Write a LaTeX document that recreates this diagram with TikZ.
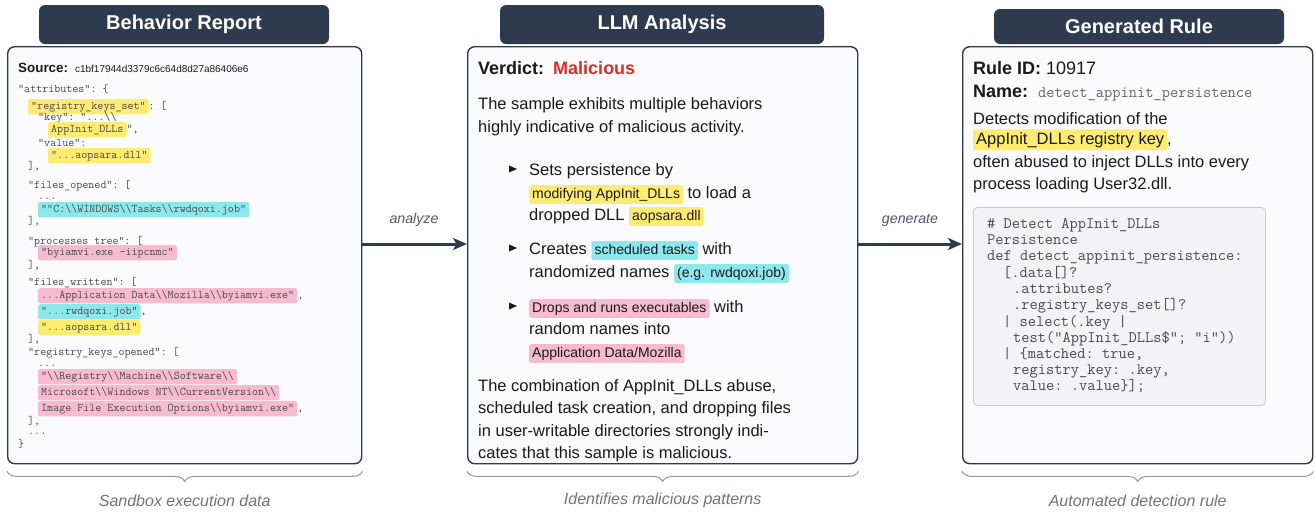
\documentclass[tikz,border=0pt]{standalone}
\usepackage{fontspec}
\setmainfont{Liberation Sans}
\usetikzlibrary{arrows.meta,decorations.pathreplacing,calc}
\definecolor{slate}{HTML}{2E3B4E}
\definecolor{panelfill}{HTML}{FBFBFD}
\definecolor{hlyellow}{HTML}{FDEB72}
\definecolor{hlcyan}{HTML}{8DE8EE}
\definecolor{hlpink}{HTML}{F7BBD0}
\definecolor{malred}{HTML}{D0312D}
\definecolor{capgrey}{HTML}{6E7383}
\definecolor{jsongrey}{HTML}{4A4A4A}
\definecolor{codefill}{HTML}{F3F3F5}
\definecolor{codeborder}{HTML}{C9CBD0}
\definecolor{bodytext}{HTML}{1A1A1A}
\newcommand\bs{\textbackslash}
\newcommand\hlt[3][]{\tikz[baseline=(hlx.base)]\node[hlbox,fill=#2,#1](hlx){#3};}
\tikzset{
 panel/.style={draw=slate, line width=1.4pt, fill=panelfill, rounded corners=7pt, anchor=north west, inner sep=0pt},
 header/.style={fill=slate, rounded corners=6pt, text=white, font=\fontsize{20}{24}\selectfont\bfseries, inner sep=0pt},
 txt/.style={anchor=base west, inner sep=0pt, text=bodytext, font=\fontsize{16.5}{20}\selectfont},
 json/.style={anchor=base west, inner sep=0pt, text=jsongrey, font=\fontsize{11.7}{13}\selectfont\ttfamily\frenchspacing},
 code/.style={anchor=base west, inner sep=0pt, text=jsongrey, font=\fontsize{16}{18}\selectfont\ttfamily\frenchspacing},
 hlbox/.style={anchor=base, inner xsep=3pt, inner ysep=2.3pt, rounded corners=2pt, text height=8pt, text depth=2.5pt, outer sep=0pt},
 hlmid/.style={font=\fontsize{14}{16}\selectfont, text height=10.5pt, text depth=3.5pt},
 hlright/.style={font=\fontsize{16.5}{20}\selectfont, text height=12.4pt, text depth=4.1pt},
 flow/.style={line width=3pt, draw=slate, -{Stealth[length=14pt,width=12pt,inset=3.5pt]}},
 flowlabel/.style={font=\fontsize{14.2}{16}\selectfont\itshape, text=slate!85, inner sep=0pt},
 bracestyle/.style={draw=capgrey!75, line width=1pt, decorate, decoration={brace, mirror, amplitude=10pt}},
 caption/.style={font=\fontsize{16}{19}\selectfont\itshape, text=capgrey, inner sep=0pt},
}
\begin{document}
\begin{tikzpicture}[x=1pt,y=-1pt]
\useasboundingbox (0,0) rectangle (1315,512);
% panels
\node[panel, minimum width=354, minimum height=417] (lbox) at (7,46) {};
\node[panel, minimum width=390, minimum height=417] (mbox) at (467,46) {};
\node[panel, minimum width=350, minimum height=417] (rbox) at (962,46) {};
% headers
\node[header, minimum width=290, minimum height=39] (lhead) at (184,24.5) {Behavior Report};
\node[header, minimum width=324, minimum height=39] (mhead) at (662,24.5) {LLM Analysis};
\node[header, minimum width=290, minimum height=35] (rhead) at (1139,26.5) {Generated Rule};
% flow arrows
\coordinate (ay) at (0,244);
\draw[flow] (lbox.east |- ay) -- (mbox.west |- ay);
\draw[flow] (mbox.east |- ay) -- (rbox.west |- ay);
\node[flowlabel] (lab1) at (414,220) {analyze};
\node[flowlabel] (lab2) at (910,220) {generate};
% braces and captions
\draw[bracestyle] ($(lbox.south west)+(0,7)$) -- ($(lbox.south east)+(0,7)$);
\draw[bracestyle] ($(mbox.south west)+(0,7)$) -- ($(mbox.south east)+(0,7)$);
\draw[bracestyle] ($(rbox.south west)+(0,7)$) -- ($(rbox.south east)+(0,7)$);
\node[caption] (cap1) at ($(lbox.south)+(0,36)$) {Sandbox execution data};
\node[caption] (cap2) at ($(mbox.south)+(0,36)$) {Identifies malicious patterns};
\node[caption] (cap3) at ($(rbox.south)+(0,36)$) {Automated detection rule};
% ---------- left panel ----------
\node[anchor=base west, inner sep=0pt, text=bodytext] (src) at (18,72) {{\fontsize{13.4}{16}\selectfont\bfseries Source:}\hspace{7pt}{\fontsize{10}{12}\selectfont c1bf17944d3379c6c64d8d27a86406e6}};
\node[json] (j1) at (18,92.5) {"attributes": \{};
\node[json] (j2) at (28,109.5) {\hlt{hlyellow}{"registry\_keys\_set"}: [};
\node[json] (j3) at (38,120.5) {"key": "...\bs\bs};
\node[json] (j4) at (48,132.5) {\hlt{hlyellow}{AppInit\_DLLs}",};
\node[json] (j5) at (38,146.5) {"value":};
\node[json] (j6) at (48,158.5) {\hlt{hlyellow}{"...aopsara.dll"}};
\node[json] (j7) at (28,169.5) {],};
\node[json] (j8) at (28,188.5) {"files\_opened": [};
\node[json] (j9) at (38,199) {...};
\node[json] (j10) at (38,212.5) {\hlt{hlcyan}{""C:\bs\bs WINDOWS\bs\bs Tasks\bs\bs rwdqoxi.job"}};
\node[json] (j11) at (28,224.5) {],};
\node[json] (j12) at (28,244.5) {"processes\_tree": [};
\node[json] (j13) at (38,255.5) {\hlt{hlpink}{"byiamvi.exe -iipcnmc"}};
\node[json] (j14) at (28,268.5) {],};
\node[json] (j15) at (28,285.5) {"files\_written": [};
\node[json] (j16) at (38,298.5) {\hlt{hlpink}{...Application Data\bs\bs Mozilla\bs\bs byiamvi.exe"},};
\node[json] (j17) at (38,314.5) {\hlt{hlcyan}{"...rwdqoxi.job"},};
\node[json] (j18) at (38,330.5) {\hlt{hlyellow}{"...aopsara.dll"}};
\node[json] (j19) at (28,342.5) {],};
\node[json] (j20) at (28,355.5) {"registry\_keys\_opened": [};
\node[json] (j21) at (38,366) {...};
\node[json] (j22) at (38,379.5) {\hlt{hlpink}{"\bs\bs Registry\bs\bs Machine\bs\bs Software\bs\bs}};
\node[json] (j23) at (38,395.5) {\hlt{hlpink}{Microsoft\bs\bs Windows NT\bs\bs CurrentVersion\bs\bs}};
\node[json] (j24) at (38,411.5) {\hlt{hlpink}{Image File Execution Options\bs\bs byiamvi.exe"},};
\node[json] (j25) at (28,424.5) {],};
\node[json] (j26) at (28,434) {...};
\node[json] (j27) at (18,447.5) {\}};
% ---------- middle panel ----------
\node[txt, font=\fontsize{18}{22}\selectfont\bfseries] (verdict) at (478,74) {Verdict:\hspace{9pt}\textcolor{malred}{Malicious}};
\node[txt] (m1) at (478,109) {The sample exhibits multiple behaviors};
\node[txt] (m2) at (478,132) {highly indicative of malicious activity.};
\fill[bodytext] (509,165.5) -- (517,169) -- (509,172.5) -- cycle;
\node[txt] (b1a) at (529,175) {Sets persistence by};
\node[txt] (b1b) at (529,198) {\hlt[hlmid]{hlyellow}{modifying AppInit\_DLLs} to load a};
\node[txt] (b1c) at (529,220) {dropped DLL \hlt[hlmid]{hlyellow}{aopsara.dll}};
\fill[bodytext] (509,244.5) -- (517,248) -- (509,251.5) -- cycle;
\node[txt] (b2a) at (529,254) {Creates \hlt[hlmid]{hlcyan}{scheduled tasks} with};
\node[txt] (b2b) at (529,277) {randomized names \hlt[hlmid]{hlcyan}{(e.g. rwdqoxi.job)}};
\fill[bodytext] (509,302.5) -- (517,306) -- (509,309.5) -- cycle;
\node[txt] (b3a) at (529,312) {\hlt[hlmid]{hlpink}{Drops and runs executables} with};
\node[txt] (b3b) at (529,334) {random names into};
\node[txt] (b3c) at (529,357) {\hlt[hlmid]{hlpink}{Application Data/Mozilla}};
\node[txt] (c1) at (478,391) {The combination of AppInit\_DLLs abuse,};
\node[txt] (c2) at (478,413) {scheduled task creation, and dropping files};
\node[txt] (c3) at (478,436) {in user-writable directories strongly indi-};
\node[txt] (c4) at (478,458) {cates that this sample is malicious.};
% ---------- right panel ----------
\node[txt, font=\fontsize{18}{22}\selectfont] (rid) at (973,74) {\textbf{Rule ID:} 10917};
\node[txt, font=\fontsize{18}{22}\selectfont] (rname) at (973,97) {\textbf{Name:}\hspace{10pt}{\fontsize{16}{18}\selectfont\ttfamily\color{jsongrey!85}detect\_appinit\_persistence}};
\node[txt] (r1) at (973,124) {Detects modification of the};
\node[txt] (r2) at (973,144) {\hlt[hlright]{hlyellow}{AppInit\_DLLs registry key},};
\node[txt] (r3) at (973,167) {often abused to inject DLLs into every};
\node[txt] (r4) at (973,189) {process loading User32.dll.};
\node[draw=codeborder, fill=codefill, rounded corners=4pt, minimum width=292, minimum height=198, anchor=north west, line width=0.8pt, inner sep=0pt] (codebox) at (973,207) {};
\node[code] (k1) at (987,228) {\# Detect AppInit\_DLLs};
\node[code] (k2) at (987,244) {Persistence};
\node[code] (k3) at (987,260.7) {def detect\_appinit\_persistence:};
\node[code] (k4) at (1003,277.3) {[.data[]?};
\node[code] (k5) at (1013,293.3) {.attributes?};
\node[code] (k6) at (1013,309.7) {.registry\_keys\_set[]?};
\node[code] (k7) at (1003,326.7) {| select(.key |};
\node[code] (k8) at (1013,342.7) {test("AppInit\_DLLs\$"; "i"))};
\node[code] (k9) at (1003,358.3) {| \{matched: true,};
\node[code] (k10) at (1013,374.3) {registry\_key: .key,};
\node[code] (k11) at (1013,390.7) {value: .value\}];};
\end{tikzpicture}
\end{document}
